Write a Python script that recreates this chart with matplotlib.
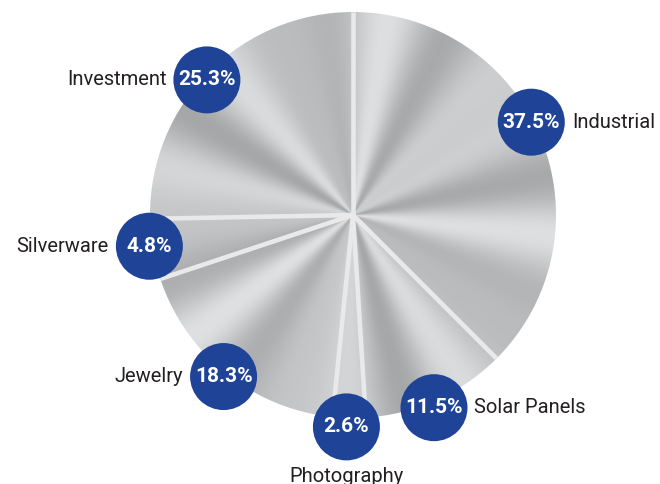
import numpy as np
import matplotlib
matplotlib.use('Agg')
import matplotlib.pyplot as plt
from matplotlib.patches import Circle
from matplotlib.colors import LinearSegmentedColormap

categories = ['Industrial', 'Solar Panels', 'Photography', 'Jewelry', 'Silverware', 'Investment']
shares = [37.5, 11.5, 2.6, 18.3, 4.8, 25.3]
pct_labels = ['37.5%', '11.5%', '2.6%', '18.3%', '4.8%', '25.3%']

# layout nudges for the label badges (angle offset in degrees, distance in px)
badge_dangle = [5.0, -1.5, -0.7, 0.0, -1.0, 1.7]
badge_dist = [201, 209, 212, 207, 206, 199]

W, H = 660, 484
fig = plt.figure(figsize=(6.6, 4.84), dpi=100)
ax = fig.add_axes([0, 0, 1, 1])
cx, cy = 353, H - 215
R = 203

wedges, _ = ax.pie(shares, startangle=90, counterclock=False, center=(cx, cy),
                   radius=R, wedgeprops=dict(facecolor='none', edgecolor='none'))

# metallic conic gradient clipped to the pie disc
n = 900
xs = np.linspace(-R, R, n)
X, Y = np.meshgrid(xs, xs)
th = np.arctan2(Y, X)
g = 0.5 + 0.33 * np.cos(8 * (th - np.deg2rad(82))) + 0.17 * np.cos(13 * th + 1.0)
g = np.clip(g, 0, 1)
cmap = LinearSegmentedColormap.from_list('silver', ['#a6a7a9', '#c2c3c5', '#dfe0e1'])
img = ax.imshow(g, cmap=cmap, vmin=0, vmax=1, extent=[cx - R, cx + R, cy - R, cy + R],
                origin='lower', zorder=0, interpolation='bilinear')
img.set_clip_path(Circle((cx, cy), R, transform=ax.transData))

# separators
for w in wedges:
    t = np.deg2rad(w.theta1)
    ax.plot([cx, cx + R * np.cos(t)], [cy, cy + R * np.sin(t)], color='#e9e9ea',
            lw=3.3, solid_capstyle='butt', zorder=2)

# labels
blue = '#1f4396'
txtc = '#231f20'
cr = 33.5
for w, cat, pct, da, rl in zip(wedges, categories, pct_labels, badge_dangle, badge_dist):
    mid = np.deg2rad((w.theta1 + w.theta2) / 2 + da)
    px, py = cx + rl * np.cos(mid), cy + rl * np.sin(mid)
    ax.add_patch(Circle((px, py), cr, facecolor=blue, edgecolor='none', zorder=5))
    ax.text(px, py, pct, color='white', fontsize=15, fontweight='bold', family='Roboto',
            ha='center', va='center', zorder=6)
    c = np.cos(mid)
    if abs(c) < 0.2:
        ax.text(px, py - cr - 7, cat, color=txtc, fontsize=14.5, family='Roboto',
                ha='center', va='top', zorder=6)
    elif c > 0:
        ax.text(px + cr + 7, py, cat, color=txtc, fontsize=14.5, family='Roboto',
                ha='left', va='center', zorder=6)
    else:
        ax.text(px - cr - 7, py, cat, color=txtc, fontsize=14.5, family='Roboto',
                ha='right', va='center', zorder=6)

ax.set_xlim(0, W)
ax.set_ylim(0, H)
ax.set_aspect('equal')
ax.axis('off')
fig.savefig('out.png', dpi=100)
